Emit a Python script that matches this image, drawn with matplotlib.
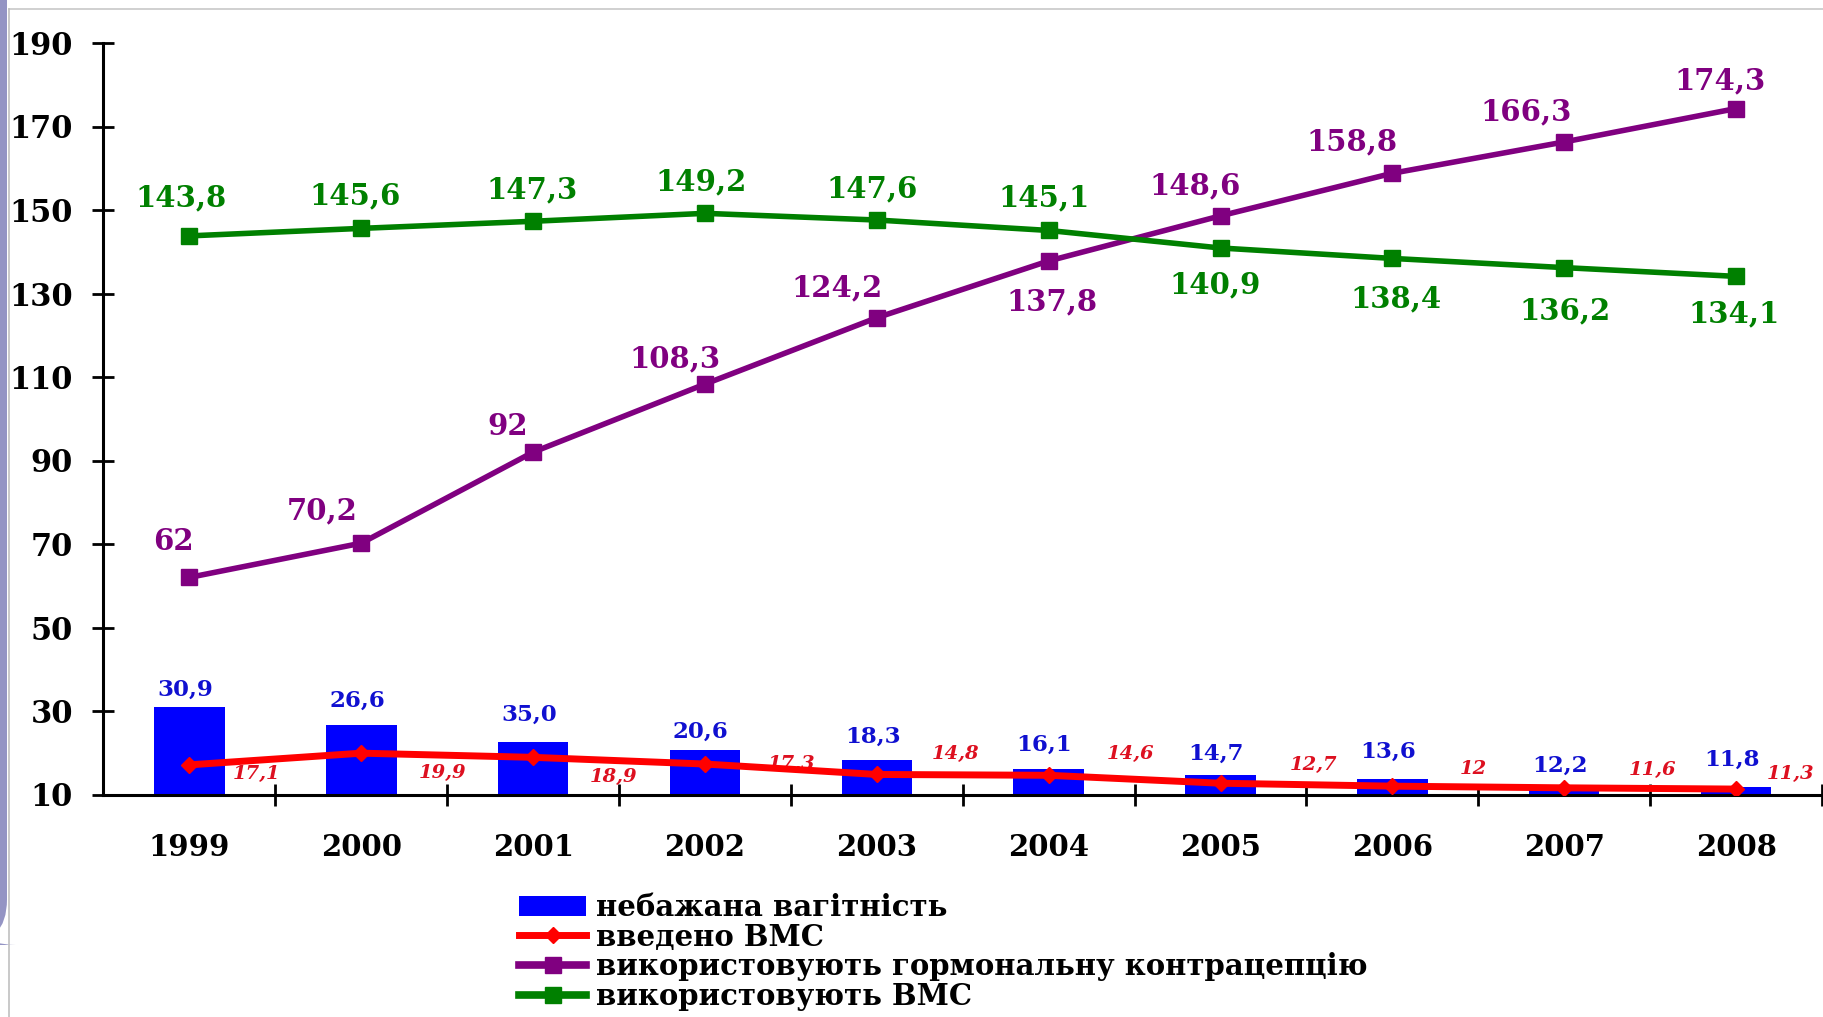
import matplotlib
matplotlib.use("Agg")
import matplotlib.pyplot as plt
from matplotlib.patches import FancyBboxPatch, Rectangle
from matplotlib.lines import Line2D
import numpy as np

years = ["1999", "2000", "2001", "2002", "2003", "2004", "2005", "2006", "2007", "2008"]
unwanted_pregnancy = [30.9, 26.6, 22.5, 20.6, 18.3, 16.1, 14.7, 13.6, 12.2, 11.8]
unwanted_labels = ["30,9", "26,6", "35,0", "20,6", "18,3", "16,1", "14,7", "13,6", "12,2", "11,8"]
iud_inserted = [17.1, 19.9, 18.9, 17.3, 14.8, 14.6, 12.7, 12, 11.6, 11.3]
hormonal = [62, 70.2, 92, 108.3, 124.2, 137.8, 148.6, 158.8, 166.3, 174.3]
iud_users = [143.8, 145.6, 147.3, 149.2, 147.6, 145.1, 140.9, 138.4, 136.2, 134.1]
yticks = list(range(10, 191, 20))
legend_labels = ["небажана вагітність", "введено ВМС",
                 "використовують гормональну контрацепцію", "використовують ВМС"]

def fmt(v):
    s = ("%g" % v)
    return s.replace(".", ",")

FONT = "DejaVu Serif"
BLUE = "#0000FF"
RED = "#FF0000"
PURPLE = "#800080"
GREEN = "#008000"

fig = plt.figure(figsize=(18.24, 10.17), dpi=100)
fig.patch.set_facecolor("white")

# frame decorations
fig.add_artist(Line2D([9/1824, 1], [1 - 9/1017, 1 - 9/1017], color="#c8c8c8", lw=1.2,
                      transform=fig.transFigure))
fig.add_artist(Line2D([9.5/1824, 9.5/1824], [0, 1 - 9/1017], color="#c0c0c0", lw=1.2,
                      transform=fig.transFigure))
fig.add_artist(FancyBboxPatch((-30/1824, 1 - 945/1017), 37/1824, 945/1017 + 0.05,
                              boxstyle="round,pad=0,rounding_size=0.025",
                              transform=fig.transFigure, facecolor="#9494c4",
                              edgecolor="none", mutation_aspect=1824/1017))

ax = fig.add_axes([103.5/1824, 1 - 794.5/1017, (1822 - 103.5)/1824, (794.5 - 43)/1017])
x = np.arange(len(years))

ax.bar(x, [v - 10 for v in unwanted_pregnancy], bottom=10, width=0.41, color=BLUE, zorder=2)
ax.plot(x, iud_inserted, color=RED, lw=5, marker="D", ms=8, zorder=4)
ax.plot(x, hormonal, color=PURPLE, lw=4, marker="s", ms=11, zorder=3)
ax.plot(x, iud_users, color=GREEN, lw=4, marker="s", ms=11, zorder=3)

# labels
blue_dy = [12.6, 17.6, 20.1, 13.4, 16.8, 17.6, 15.1, 20.1, 14.2, 19.3]
for i, (v, lab) in enumerate(zip(unwanted_pregnancy, unwanted_labels)):
    ax.annotate(lab, (x[i], v), xytext=(-3, blue_dy[i]), textcoords="offset points",
                ha="center", va="center", fontsize=16.5, fontweight="bold",
                family=FONT, color="#1010d0", zorder=5)

red_dx = [48.6, 58.6, 57.8, 62, 57, 58.6, 67, 58.6, 63.7, 39.4]
red_dy = [-6.7, -14, -14, 0, 15, 15, 13, 12.5, 13, 11]
for i, v in enumerate(iud_inserted):
    ax.annotate(fmt(v), (x[i], v), xytext=(red_dx[i], red_dy[i]), textcoords="offset points",
                ha="center", va="center", fontsize=14, fontweight="bold", style="italic",
                family=FONT, color="#dd1020", zorder=3)

pur_dx = [-11.7, -28.5, -18.4, -21.8, -28.5, 2.5, -18.4, -29.3, -27.6, -11.7]
pur_dy = [26, 23.5, 18.4, 18.4, 21.8, -29.3, 21.8, 22.6, 21.8, 20.1]
for i, v in enumerate(hormonal):
    ax.annotate(fmt(v), (x[i], v), xytext=(pur_dx[i], pur_dy[i]), textcoords="offset points",
                ha="center", va="center", fontsize=21, fontweight="bold",
                family=FONT, color=PURPLE, zorder=5)

grn_dx = [-5.9, -4.2, -0.8, -2.5, -3.4, -3.4, -4.2, 2.5, 0.8, -1.7]
grn_dy = [27.6, 23.5, 22.6, 22.6, 22.6, 23.5, -26.8, -29.3, -31, -26.8]
for i, v in enumerate(iud_users):
    ax.annotate(fmt(v), (x[i], v), xytext=(grn_dx[i], grn_dy[i]), textcoords="offset points",
                ha="center", va="center", fontsize=21, fontweight="bold",
                family=FONT, color=GREEN, zorder=5)

ax.set_xlim(-0.5, len(years) - 0.5)
ax.set_ylim(10, 190)
ax.set_yticks(yticks)
ax.set_yticklabels([str(t) for t in yticks], fontsize=22, fontweight="bold", family=FONT)
ax.set_xticks(x)
ax.set_xticklabels(years, fontsize=21, fontweight="bold", family=FONT)
ax.set_xticks(x + 0.5, minor=True)
ax.tick_params(axis="x", which="major", length=0, pad=28)
ax.tick_params(axis="x", which="minor", direction="inout", length=16, width=2)
ax.tick_params(axis="y", direction="inout", length=16, width=2, pad=14)
for s in ["top", "right"]:
    ax.spines[s].set_visible(False)
for s in ["left", "bottom"]:
    ax.spines[s].set_linewidth(2.2)
ax.set_facecolor("none")

handles = [
    Rectangle((0, 0), 1, 1, facecolor=BLUE, edgecolor="none"),
    Line2D([], [], color=RED, lw=5, marker="D", ms=8),
    Line2D([], [], color=PURPLE, lw=5.5, marker="s", ms=11),
    Line2D([], [], color=GREEN, lw=5.5, marker="s", ms=11),
]
leg = fig.legend(handles, legend_labels, loc="upper left",
                 bbox_to_anchor=(519/1824, 1 - 893/1017), frameon=False,
                 prop={"family": FONT, "weight": "bold", "size": 21},
                 labelspacing=0.02, handlelength=2.3, handletextpad=0.35,
                 borderpad=0, borderaxespad=0)

fig.savefig("out.png", dpi=100, facecolor="white")
